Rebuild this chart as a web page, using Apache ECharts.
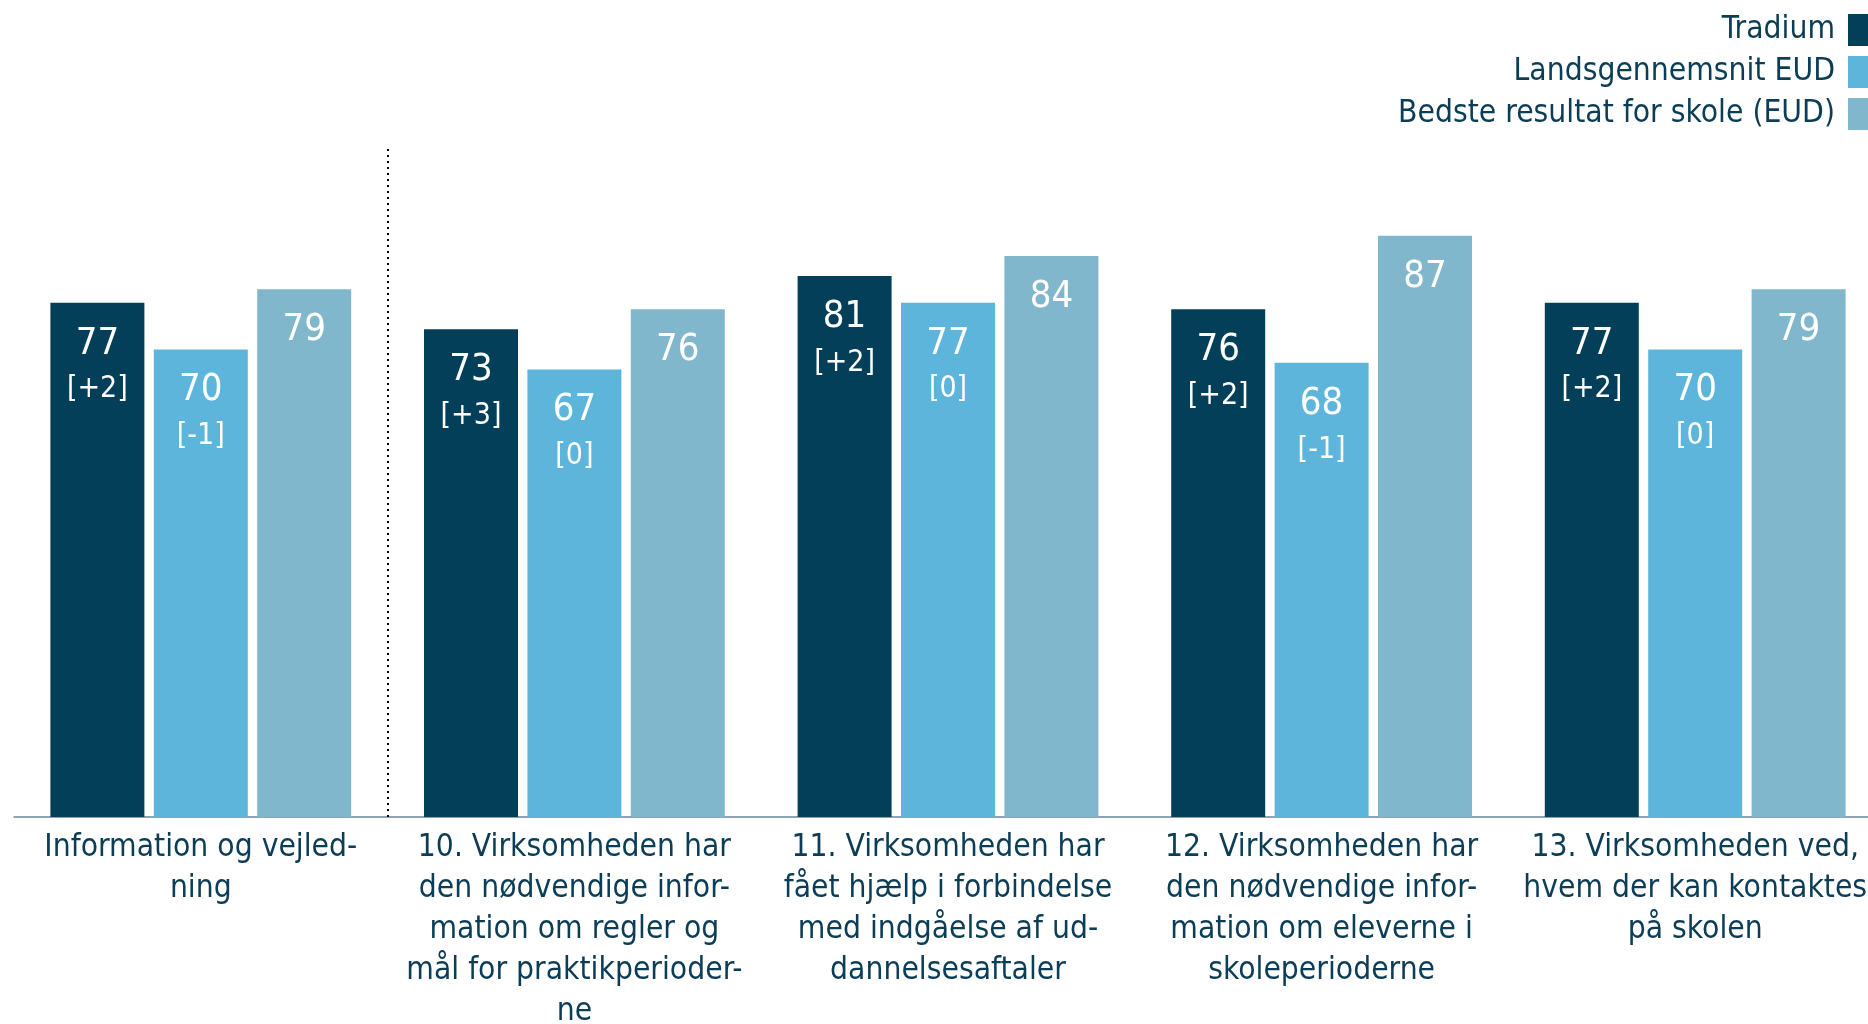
<!DOCTYPE html>
<html>
<head>
<meta charset="utf-8">
<script src="https://cdn.jsdelivr.net/npm/echarts@6/dist/echarts.min.js"></script>
<style>
  html, body { margin: 0; padding: 0; background: #fff; }
  #chart { width: 1868px; height: 1024px; }
</style>
</head>
<body>
<div id="chart"></div>
<script>
var categories = [
  'Information og vejled-\nning',
  '10. Virksomheden har\nden nødvendige infor-\nmation om regler og\nmål for praktikperioder-\nne',
  '11. Virksomheden har\nfået hjælp i forbindelse\nmed indgåelse af ud-\ndannelsesaftaler',
  '12. Virksomheden har\nden nødvendige infor-\nmation om eleverne i\nskoleperioderne',
  '13. Virksomheden ved,\nhvem der kan kontaktes\npå skolen'
];
var seriesNames = ['Tradium', 'Landsgennemsnit EUD', 'Bedste resultat for skole (EUD)'];
var tradium = [77, 73, 81, 76, 77];
var tradiumDiff = ['+2', '+3', '+2', '+2', '+2'];
var lands = [70, 67, 77, 68, 70];
var landsDiff = ['-1', '0', '0', '-1', '0'];
var best = [79, 76, 84, 87, 79];
// skillelinje efter første kategori
var dividerAt = [1];

var FONT = "'DejaVu Sans Condensed', 'DejaVu Sans', sans-serif";
var textColor = '#0b3d56';

var myChart = echarts.init(document.getElementById('chart'));

function labelWithDiff(diffs) {
  return {
    show: true,
    position: 'insideTop',
    distance: 18,
    color: '#fff',
    fontFamily: FONT,
    formatter: function (p) {
      return '{v|' + p.value + '}\n{d|[' + diffs[p.dataIndex] + ']}';
    },
    rich: {
      v: { fontSize: 38, lineHeight: 46, color: '#fff', fontFamily: FONT },
      d: { fontSize: 30, lineHeight: 46, color: '#fff', fontFamily: FONT }
    }
  };
}

var option = {
  animation: false,
  textStyle: { fontFamily: FONT },
  legend: {
    data: seriesNames,
    orient: 'vertical',
    align: 'right',
    right: -17,
    top: 9,
    icon: 'rect',
    itemWidth: 32,
    itemHeight: 32,
    itemGap: 10,
    textStyle: {
      fontSize: 31.5,
      color: textColor,
      fontFamily: FONT,
      padding: [0, 8, 0, 0]
    }
  },
  grid: {
    left: 14,
    right: -14,
    top: 149,
    bottom: 207,
    outerBoundsMode: 'none',
    containLabel: false
  },
  xAxis: [
    {
      type: 'category',
      data: categories,
      axisLine: { lineStyle: { color: '#6b8399', width: 1.5 } },
      axisTick: { show: false },
      axisLabel: {
        interval: 0,
        fontSize: 31.5,
        lineHeight: 41,
        color: textColor,
        fontFamily: FONT,
        margin: 10
      },
      splitLine: { show: false }
    },
    {
      type: 'value',
      min: 0,
      max: categories.length,
      show: false
    }
  ],
  yAxis: {
    type: 'value',
    min: 0,
    max: 100,
    show: false
  },
  series: [
    {
      name: seriesNames[0],
      type: 'bar',
      data: tradium,
      barWidth: 94,
      barGap: '10%',
      itemStyle: { color: '#043f59' },
      label: labelWithDiff(tradiumDiff)
    },
    {
      name: seriesNames[1],
      type: 'bar',
      data: lands,
      barWidth: 94,
      barGap: '10%',
      itemStyle: { color: '#5eb5db' },
      label: labelWithDiff(landsDiff)
    },
    {
      name: seriesNames[2],
      type: 'bar',
      data: best,
      barWidth: 94,
      barGap: '10%',
      itemStyle: { color: '#80b7cc' },
      label: {
        show: true,
        position: 'insideTop',
        distance: 18,
        color: '#fff',
        fontSize: 38,
        lineHeight: 46,
        fontFamily: FONT
      }
    },
    {
      name: 'divider',
      type: 'line',
      xAxisIndex: 1,
      data: [],
      silent: true,
      markLine: {
        silent: true,
        symbol: 'none',
        label: { show: false },
        lineStyle: { color: '#000', width: 2, type: [2, 4] },
        data: dividerAt.map(function (v) { return { xAxis: v }; })
      }
    }
  ]
};

myChart.setOption(option);
</script>
</body>
</html>
